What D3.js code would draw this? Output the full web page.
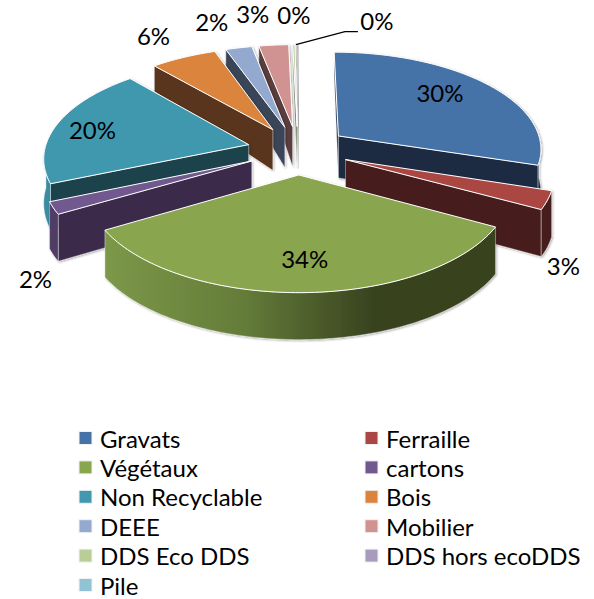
<!DOCTYPE html>
<html>
<head>
<meta charset="utf-8">
<script src="https://cdn.jsdelivr.net/npm/d3@7"></script>
<style>
  html, body { margin: 0; padding: 0; background: #fff; }
  svg { display: block; }
  text { font-family: Lato, "Open Sans", sans-serif; fill: #000; }
</style>
</head>
<body>
<div id="chart"></div>
<script>
// values (percent)
const categories = ["Gravats", "Ferraille", "Végétaux", "cartons", "Non Recyclable", "Bois", "DEEE", "Mobilier", "DDS Eco DDS", "DDS hors ecoDDS", "Pile"];
const values = [30.0, 3.0, 33.9, 2.0, 20.0, 6.0, 2.4, 2.7, 0.2, 0.1, 0.1];
const labels = ["30%", "3%", "34%", "2%", "20%", "6%", "2%", "3%", "0%", "0%", ""];

const topColors = ["#4572a7", "#aa4643", "#89a54e", "#71588f", "#4198af", "#db843d", "#93a9cf", "#d19392", "#b9cd96", "#a99bbd", "#92c3d4"];
const wallColors = ["#1a2b43", "#461c1a", "#38431f", "#3b2a4a", "#1c434c", "#59341a", "#3a4459", "#5a3d3d", "#6f7b5a", "#655d72", "#587580"];
const rimColors = ["#1a2b43", "#461c1a", "url(#greenRim)", "#4f3c66", "#3a8ba1", "#59341a", "#3a4459", "#5a3d3d", "#6f7b5a", "#655d72", "#587580"];
// label offset from the outer middle of each slice
const labelShift = [[-47, 8], [16, 65], [2, -34], [-18, 70], [35, 6], [-30, -22], [-27, -26], [-21, -32], [0, -30], [81, -24], [0, 0]];

const w = 594;
const h = 599;
const cx = 298, cy = 150;
const rx = 204, ry = 97;
const persp = 0.12;
const explode = 0.25;

// wall height shrinks towards the back of the pie
const wallHeight = d3.scaleLinear().domain([-1.25, -0.1, 0.5, 1.3]).range([20, 43, 47, 47]).clamp(true);

const svg = d3.select("#chart").append("svg")
  .attr("width", w)
  .attr("height", h);

const defs = svg.append("defs");
const grad = defs.append("linearGradient")
  .attr("id", "greenRim")
  .attr("gradientUnits", "userSpaceOnUse")
  .attr("x1", 105).attr("x2", 500).attr("y1", 0).attr("y2", 0);
grad.append("stop").attr("offset", "0").attr("stop-color", "#7c9848");
grad.append("stop").attr("offset", "0.35").attr("stop-color", "#647c39");
grad.append("stop").attr("offset", "0.68").attr("stop-color", "#38431f");
grad.append("stop").attr("offset", "1").attr("stop-color", "#38431f");

const shadow = defs.append("filter").attr("id", "soft")
  .attr("x", "-20%").attr("y", "-20%").attr("width", "150%").attr("height", "150%");
shadow.append("feDropShadow")
  .attr("dx", 1).attr("dy", 1).attr("stdDeviation", 1.2)
  .attr("flood-color", "#000").attr("flood-opacity", 0.35);

const pie = d3.pie().sort(null).value(d => d).startAngle(0).endAngle(2 * Math.PI);
const arcs = pie(values).map((a, i) => {
  a.i = i;
  a.mid = (a.startAngle + a.endAngle) / 2;
  return a;
});

// ground position of a point on the slice -> screen
function ground(a, ang, r) {
  return [
    r * Math.sin(ang) + explode * Math.sin(a.mid),
    -r * Math.cos(ang) - explode * Math.cos(a.mid)
  ];
}
function project(g) {
  const s = 1 / (1 - persp * g[1]);
  return [cx + g[0] * rx * s, cy + g[1] * ry * s];
}
function lower(g) {
  const p = project(g);
  return [p[0], p[1] + wallHeight(g[1])];
}

const line = d3.line();
function sweep(a, from, to) {
  const n = Math.max(2, Math.ceil((to - from) / 0.02));
  return d3.range(n + 1).map(t => ground(a, from + (to - from) * t / n, 1));
}

const order = arcs.slice().sort((p, q) => ground(p, 0, 0)[1] - ground(q, 0, 0)[1]);

const slices = svg.selectAll("g.slice")
  .data(order)
  .enter()
  .append("g")
  .attr("class", "slice")
  .attr("filter", "url(#soft)");

slices.each(function(a) {
  const g = d3.select(this);
  const apex = ground(a, 0, 0);
  const pApex = project(apex);
  const pMid = project(ground(a, a.mid, 1));
  const wallStyle = sel => sel.attr("stroke", "#fff").attr("stroke-opacity", 0.55).attr("stroke-width", 0.7);

  // radial walls, skip the ones that turn away from the viewer
  [a.startAngle, a.endAngle].forEach(ang => {
    const edge = ground(a, ang, 1);
    const pEdge = project(edge);
    const dx = pEdge[0] - pApex[0], dy = pEdge[1] - pApex[1];
    const side = dx * (pMid[1] - pApex[1]) - dy * (pMid[0] - pApex[0]);
    if (dx * side > 0) return;
    g.append("path")
      .attr("d", line([pApex, pEdge, lower(edge), lower(apex)]) + "Z")
      .attr("fill", wallColors[a.i])
      .call(wallStyle);
  });

  // rim, only the part facing the viewer
  const from = Math.max(a.startAngle, Math.PI / 2);
  const to = Math.min(a.endAngle, Math.PI * 1.5);
  if (to > from) {
    const pts = sweep(a, from, to);
    g.append("path")
      .attr("d", line(pts.map(project).concat(pts.slice().reverse().map(lower))) + "Z")
      .attr("fill", rimColors[a.i])
      .call(wallStyle);
  }

  // top face
  const outer = sweep(a, a.startAngle, a.endAngle).map(project);
  g.append("path")
    .attr("d", line([pApex].concat(outer)) + "Z")
    .attr("fill", topColors[a.i])
    .attr("stroke", "#fff")
    .attr("stroke-width", 1)
    .attr("stroke-linejoin", "round");
});

// data labels
const labelAnchor = a => project(ground(a, a.mid, 1));

svg.selectAll("text.pct")
  .data(arcs.filter(a => labels[a.i] !== ""))
  .enter()
  .append("text")
  .attr("class", "pct")
  .attr("x", a => labelAnchor(a)[0] + labelShift[a.i][0])
  .attr("y", a => labelAnchor(a)[1] + labelShift[a.i][1])
  .attr("text-anchor", "middle")
  .attr("dominant-baseline", "central")
  .attr("font-size", 24)
  .text(a => labels[a.i]);

// leader line of the second 0%
const leadStart = labelAnchor(arcs[9]);
svg.append("path")
  .attr("d", line([leadStart, [leadStart[0] + 49, leadStart[1] - 13], [leadStart[0] + 62, leadStart[1] - 13]]))
  .attr("fill", "none")
  .attr("stroke", "#000")
  .attr("stroke-width", 1.2);

// legend
const legendX = d3.scalePoint().domain([0, 1]).range([79, 365]);
const legendY = d3.scalePoint().domain(d3.range(6)).range([438, 585]);

const legend = svg.selectAll("g.legend")
  .data(categories)
  .enter()
  .append("g")
  .attr("class", "legend")
  .attr("transform", (d, i) => "translate(" + legendX(i % 2) + "," + legendY(Math.floor(i / 2)) + ")");

legend.append("rect")
  .attr("x", 0).attr("y", -6.5)
  .attr("width", 13).attr("height", 13)
  .attr("fill", (d, i) => topColors[i])
  .attr("stroke", "#f2f2f2")
  .attr("stroke-width", 1);

legend.append("text")
  .attr("x", 21)
  .attr("y", 0)
  .attr("dominant-baseline", "central")
  .attr("font-size", 24)
  .text(d => d);
</script>
</body>
</html>
